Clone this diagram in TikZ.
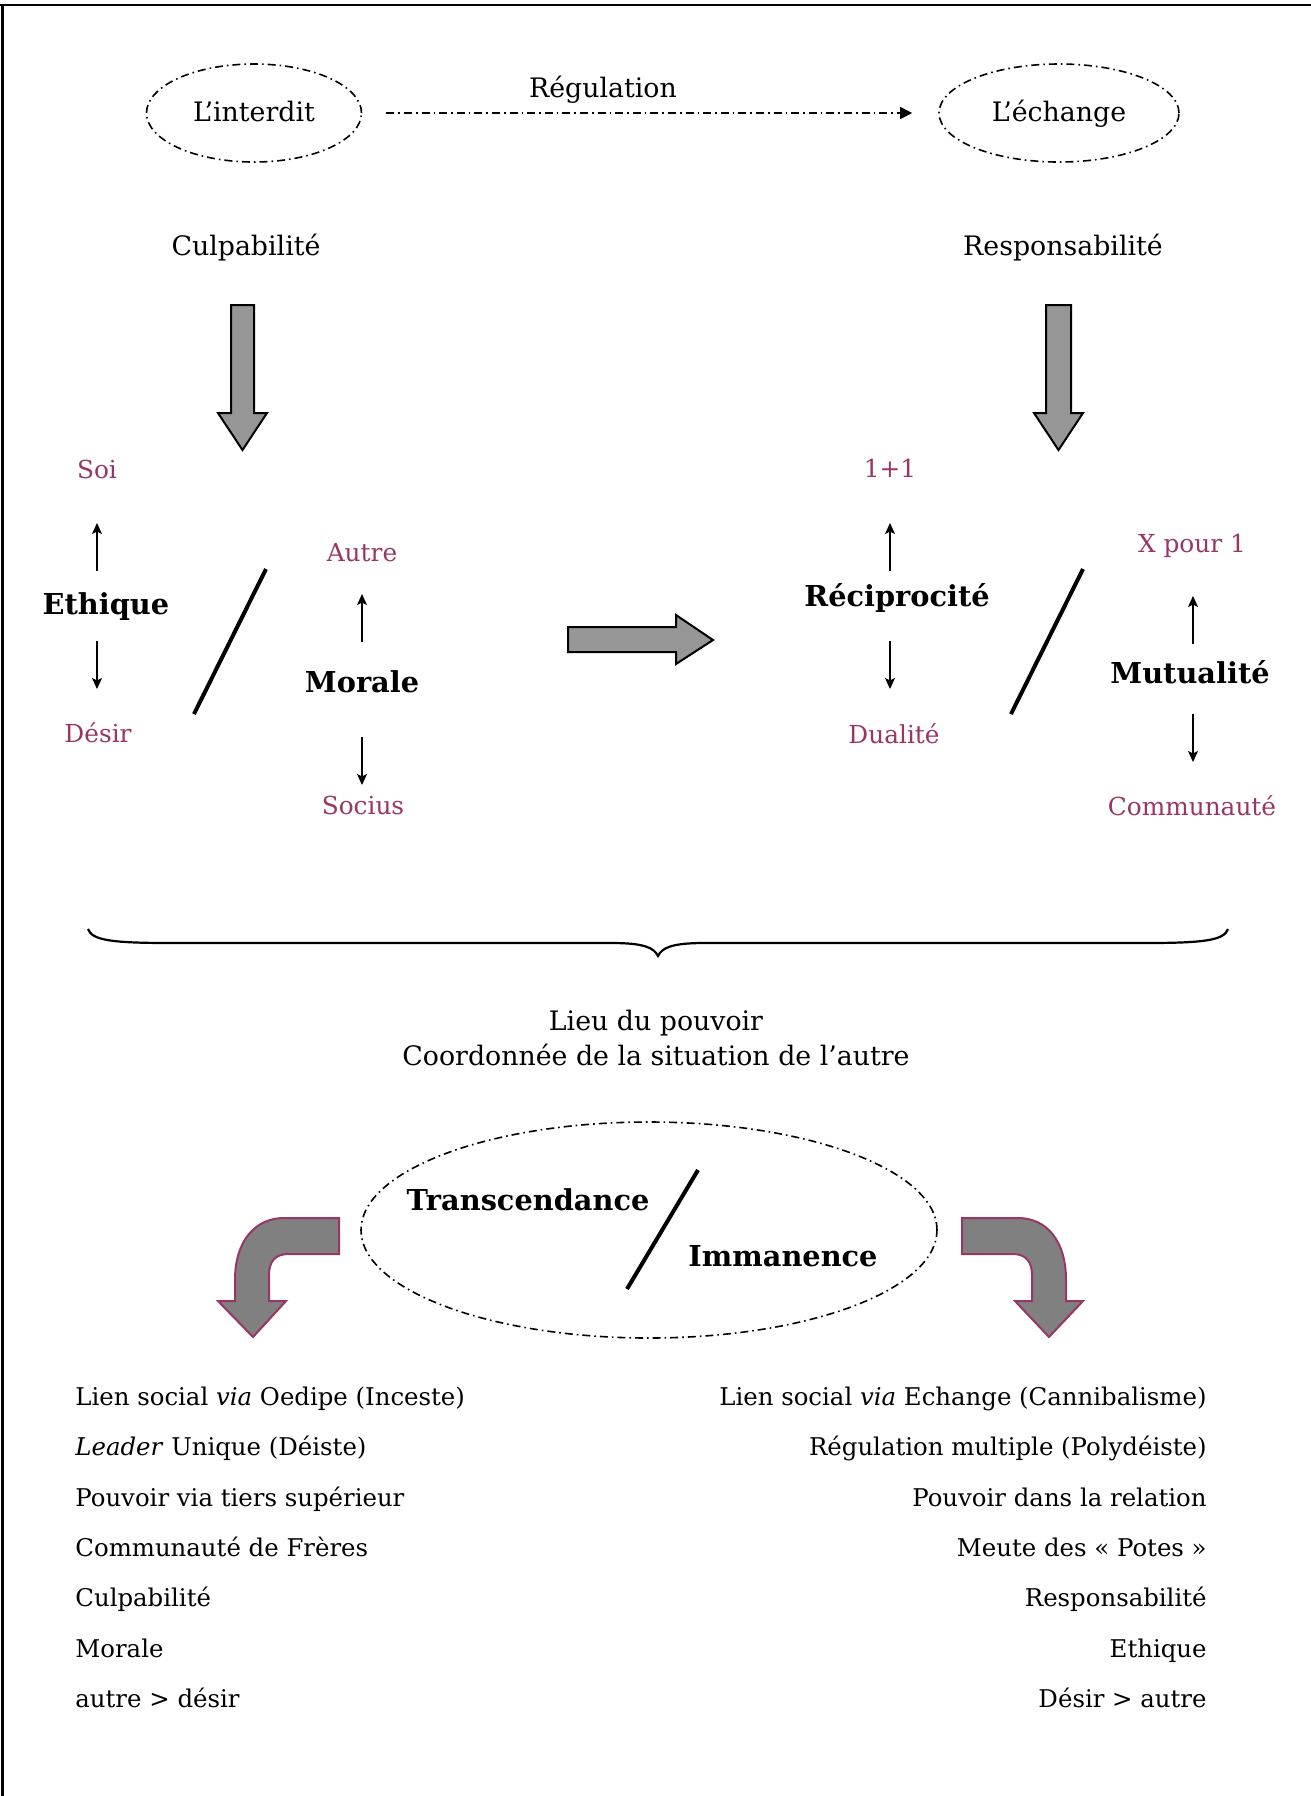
\documentclass[tikz,border=0pt]{standalone}
\usepackage{fontspec}
\setmainfont{DejaVu Serif}
\usetikzlibrary{shapes.geometric,arrows.meta}
\definecolor{plum}{RGB}{152,54,102}
\definecolor{blockgray}{RGB}{150,150,150}
\definecolor{curvegray}{RGB}{128,128,128}
\begin{document}
\begin{tikzpicture}[x=0.5pt,y=-0.5pt,
  txt/.style={font=\fontsize{13.4}{16}\selectfont, inner sep=0pt, text height=0.9em, text depth=0.08em},
  listtxt/.style={font=\fontsize{12.2}{15}\selectfont, inner sep=0pt, text height=0.9em, text depth=0.08em},
  lbl/.style={font=\fontsize{12.4}{15}\selectfont, text=plum, inner sep=0pt, text height=0.9em, text depth=0.08em},
  bigb/.style={font=\fontsize{14.4}{17}\selectfont\bfseries, inner sep=0pt, text height=0.9em, text depth=0.08em},
  dashdot/.style={line width=0.8pt, dash pattern=on 4pt off 2pt on 0.8pt off 2pt},
  oval/.style={ellipse, draw, dashdot, inner sep=0pt},
  smallarr/.style={line width=0.6pt, -{Stealth[length=5.5pt,width=5pt,inset=1.2pt]}},
  slash/.style={line width=2pt},
  blockarr/.style={draw=black, line width=1pt, fill=blockgray, line join=miter},
  curvearr/.style={draw=plum, line width=1pt, fill=curvegray, line join=miter},
]
\useasboundingbox (0,0) rectangle (1311,1796);
% frame (top and left)
\draw[line width=1.2pt] (0,5) -- (1311,5);
\draw[line width=1.2pt] (2.5,5) -- (2.5,1796);

% top ellipses
\node[oval, minimum width=107.5pt, minimum height=49pt] (interdit) at (254,113) {};
\node[oval, minimum width=120pt, minimum height=49pt] (echange) at (1059,113) {};
\node[txt] (interditt) at (interdit.center) {L’interdit};
\node[txt] (echanget) at (echange.center) {L’échange};
\draw[dashdot, -{Triangle[length=6pt,width=6pt]}, shorten <=12pt, shorten >=13pt] (interdit) -- (echange);
\node[txt] (regul) at (603,89) {Régulation};

\node[txt] (culp) at (246,247) {Culpabilité};
\node[txt] (resp) at (1063,247) {Responsabilité};

% big down arrows
\draw[blockarr] (231,305) -- (254,305) -- (254,413) -- (267,413) -- (242.5,450) -- (218,413) -- (231,413) -- cycle;
\draw[blockarr] (1046,305) -- (1071,305) -- (1071,413) -- (1083,413) -- (1058.5,450) -- (1034,413) -- (1046,413) -- cycle;
% middle right arrow
\draw[blockarr] (568,627) -- (676,627) -- (676,615) -- (713,640) -- (676,664) -- (676,652) -- (568,652) -- cycle;

% left cluster
\node[lbl] (soi) at (97,470) {Soi};
\node[bigb] (ethique) at (106,606) {Ethique};
\node[lbl] (desir) at (98,734) {Désir};
\node[lbl] (autre) at (362,553) {Autre};
\node[bigb] (morale) at (362,684) {Morale};
\node[lbl] (socius) at (363,806) {Socius};
\coordinate (a1s) at (97,571); \coordinate (a1e) at (97,523);
\coordinate (a2s) at (97,641); \coordinate (a2e) at (97,689);
\coordinate (a3s) at (362,642); \coordinate (a3e) at (362,594);
\coordinate (a4s) at (362,737); \coordinate (a4e) at (362,785);
\draw[smallarr] (a1s) -- (a1e);
\draw[smallarr] (a2s) -- (a2e);
\draw[smallarr] (a3s) -- (a3e);
\draw[smallarr] (a4s) -- (a4e);
\draw[slash] (266,569) -- (194,714);

% right cluster
\node[lbl] (unun) at (890,469) {1+1};
\node[bigb] (recip) at (897,598) {Réciprocité};
\node[lbl] (dual) at (894,735) {Dualité};
\node[lbl] (xpour) at (1192,544) {X pour 1};
\node[bigb] (mutu) at (1190,675) {Mutualité};
\node[lbl] (commu) at (1192,807) {Communauté};
\coordinate (b1s) at (890,571); \coordinate (b1e) at (890,523);
\coordinate (b2s) at (890,641); \coordinate (b2e) at (890,689);
\coordinate (b3s) at (1193,644); \coordinate (b3e) at (1193,596);
\coordinate (b4s) at (1193,714); \coordinate (b4e) at (1193,762);
\draw[smallarr] (b1s) -- (b1e);
\draw[smallarr] (b2s) -- (b2e);
\draw[smallarr] (b3s) -- (b3e);
\draw[smallarr] (b4s) -- (b4e);
\draw[slash] (1083,569) -- (1011,714);

% brace
\draw[line width=1.1pt] (88,929) .. controls (92,940) and (110,943) .. (170,943) -- (612,943) .. controls (645,943) and (654,948) .. (658,956)
  .. controls (662,948) and (671,943) .. (704,943) -- (1146,943) .. controls (1206,943) and (1224,940) .. (1228,929);

\node[txt] (lieu) at (656,1022) {Lieu du pouvoir};
\node[txt] (coord) at (656,1057) {Coordonnée de la situation de l’autre};

% lower ellipse
\node[oval, minimum width=288pt, minimum height=108pt] (trans) at (649,1230) {};
\node[bigb] (transc) at (528,1202) {Transcendance};
\node[bigb] (imman) at (783,1258) {Immanence};
\draw[slash] (698,1170) -- (627,1289);

% curved arrows
\draw[curvearr] (339,1218) -- (284,1218) .. controls (256,1218) and (235,1240) .. (235,1280) -- (235,1301) -- (218,1301) -- (253,1337) -- (286,1301) -- (269,1301) -- (269,1275) .. controls (269,1262) and (275,1254) .. (288,1254) -- (339,1254) -- cycle;
\draw[curvearr] (962,1218) -- (1018,1218) .. controls (1046,1218) and (1066,1240) .. (1066,1280) -- (1066,1301) -- (1083,1301) -- (1049,1337) -- (1015,1301) -- (1032,1301) -- (1032,1275) .. controls (1032,1262) and (1026,1254) .. (1013,1254) -- (962,1254) -- cycle;

% lists
\node[listtxt, anchor=west] (l1) at (75,1397) {Lien social \textit{via} Oedipe (Inceste)};
\node[listtxt, anchor=west] (l2) at (75,1447) {\textit{Leader} Unique (Déiste)};
\node[listtxt, anchor=west] (l3) at (75,1498) {Pouvoir via tiers supérieur};
\node[listtxt, anchor=west] (l4) at (75,1548) {Communauté de Frères};
\node[listtxt, anchor=west] (l5) at (75,1598) {Culpabilité};
\node[listtxt, anchor=west] (l6) at (75,1649) {Morale};
\node[listtxt, anchor=west] (l7) at (75,1699) {autre > désir};
\node[listtxt, anchor=east] (r1) at (1207,1397) {Lien social \textit{via} Echange (Cannibalisme)};
\node[listtxt, anchor=east] (r2) at (1207,1447) {Régulation multiple (Polydéiste)};
\node[listtxt, anchor=east] (r3) at (1207,1498) {Pouvoir dans la relation};
\node[listtxt, anchor=east] (r4) at (1207,1548) {Meute des «~Potes~»};
\node[listtxt, anchor=east] (r5) at (1207,1598) {Responsabilité};
\node[listtxt, anchor=east] (r6) at (1207,1649) {Ethique};
\node[listtxt, anchor=east] (r7) at (1207,1699) {Désir > autre};
\end{tikzpicture}
\end{document}
